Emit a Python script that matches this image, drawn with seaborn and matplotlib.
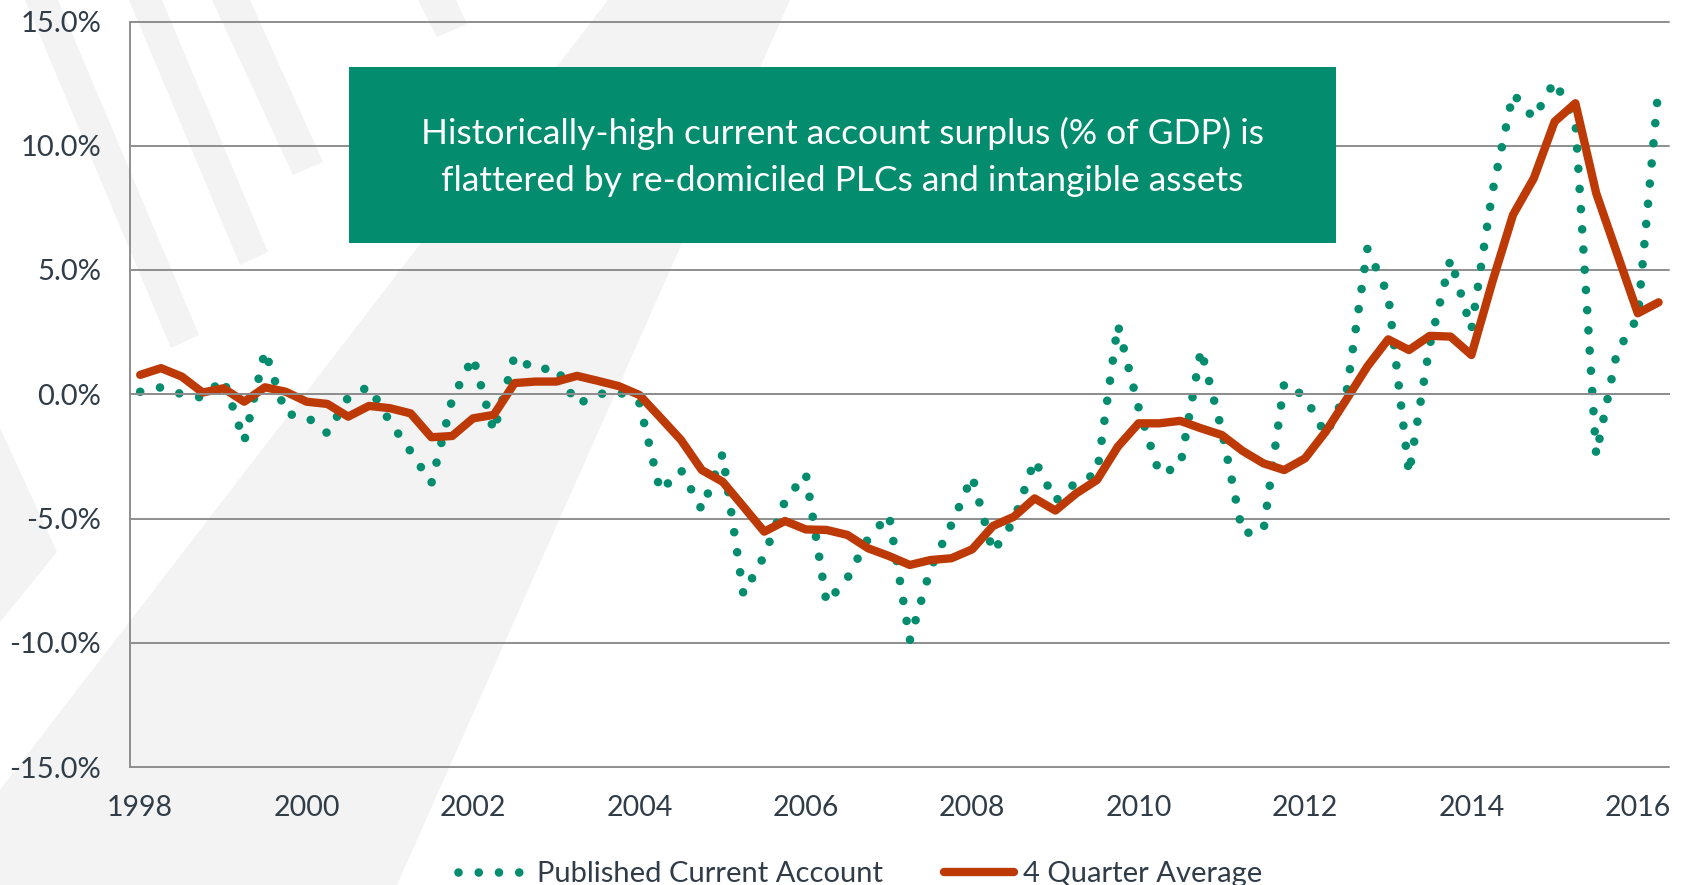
import numpy as np
import pandas as pd
import matplotlib
matplotlib.use("Agg")
import matplotlib.pyplot as plt
from matplotlib.patches import Polygon, Rectangle
from matplotlib.ticker import FuncFormatter
import seaborn as sns

# ---------------------------------------------------------------- data
# Quarterly observations, 1998 Q1 .. 2016 Q2 (% of GDP)
quarters = [f"{y} Q{q}" for y in range(1998, 2017) for q in range(1, 5)][:74]
year_labels = ["1998", "2000", "2002", "2004", "2006", "2008",
               "2010", "2012", "2014", "2016"]

published = [
    0.10, 0.28, 0.00, -0.14, 0.62, -1.90, 1.75, -0.79, -0.90, -1.57,
    -0.12, 0.31, -1.10, -2.30, -3.58, -0.20, 1.50, -1.50, 1.55, 0.97,
    1.08, -0.41, 0.00, 0.10, -0.35, -3.90, -3.05, -4.65, -2.40, -8.05,
    -6.50, -4.30, -3.20, -8.40, -7.40, -5.80, -4.85, -9.90, -7.00, -5.25,
    -3.30, -6.35, -5.10, -2.64, -4.30, -3.54, -3.20, 2.80, -0.54, -3.20,
    -2.90, 1.80, -1.45, -5.60, -5.50, 0.45, -0.10, -1.64, 0.10, 5.85,
    4.00, -3.20, 2.00, 5.45, 2.60, 8.10, 12.10, 11.10, 12.60, 11.00,
    -2.45, 1.70, 3.10, 12.40,
]

four_quarter_avg = [
    0.78, 1.05, 0.71, 0.07, 0.24, -0.30, 0.28, 0.10, -0.30, -0.39,
    -0.90, -0.47, -0.56, -0.77, -1.73, -1.68, -0.97, -0.83, 0.45, 0.51,
    0.51, 0.74, 0.54, 0.33, -0.03, -0.93, -1.84, -3.05, -3.52, -4.52,
    -5.53, -5.10, -5.44, -5.46, -5.66, -6.20, -6.51, -6.87, -6.67, -6.60,
    -6.24, -5.30, -4.93, -4.19, -4.68, -3.99, -3.45, -2.11, -1.17, -1.17,
    -1.07, -1.37, -1.64, -2.28, -2.78, -3.05, -2.58, -1.50, -0.20, 1.12,
    2.21, 1.78, 2.35, 2.32, 1.58, 4.50, 7.22, 8.69, 10.97, 11.71,
    8.09, 5.67, 3.26, 3.70,
]

series_names = ["Published Current Account", "4 Quarter Average"]
headline = ("Historically-high current account surplus (% of GDP) is\n"
            "flattered by re-domiciled PLCs and intangible assets")

# ---------------------------------------------------------------- style
GREEN = "#038c6e"
RED = "#bd3a07"
GRID = "#8e8e8e"
TEXT = "#303d48"
SHADE = "#f3f3f3"

W, H, DPI = 1682, 885, 100

sns.set_theme(style="white")
plt.rcParams["font.family"] = ["Lato", "DejaVu Sans"]

fig = plt.figure(figsize=(W / DPI, H / DPI), dpi=DPI)
fig.patch.set_facecolor("white")


def frac(points):
    """pixel positions (origin top-left) -> figure fraction"""
    return [(x / W, 1 - y / H) for x, y in points]


# decorative background shapes
shapes = [
    [(608, 0), (790, 0), (397, 885), (0, 885), (0, 790)],
    [(0, 428), (57, 552), (0, 622)],
    [(25, 0), (58, 0), (199, 335), (171, 348)],
    [(129, 0), (162, 0), (268, 252), (240, 265)],
    [(212, 0), (250, 0), (323, 162), (293, 175)],
    [(418, 0), (456, 0), (467, 24), (437, 37)],
]
for s in shapes:
    fig.add_artist(Polygon(frac(s), closed=True, transform=fig.transFigure,
                           facecolor=SHADE, edgecolor="none", zorder=-5))

# ---------------------------------------------------------------- axes
left, right, top, bottom = 129.8, 1669, 21.5, 767
ax = fig.add_axes([left / W, 1 - bottom / H, (right - left) / W, (bottom - top) / H])
ax.set_facecolor("none")
ax.set_zorder(1)

df = pd.DataFrame({
    "quarter": quarters,
    "pos": np.arange(len(quarters)),
    "published": published,
    "avg": four_quarter_avg,
})

sns.lineplot(data=df, x="pos", y="published", ax=ax, color=GREEN,
             linewidth=6.2, label=series_names[0], legend=False,
             estimator=None, sort=False)
dots = ax.lines[-1]
dots.set_linestyle((0, (0.001, 2.35)))
dots.set_dash_capstyle("round")

sns.lineplot(data=df, x="pos", y="avg", ax=ax, color=RED,
             linewidth=6.0, label=series_names[1], legend=False,
             estimator=None, sort=False)
avg_line = ax.lines[-1]
avg_line.set_solid_joinstyle("round")
avg_line.set_solid_capstyle("round")

ax.set_xlim(-0.5, len(quarters) - 0.5)
ax.set_ylim(-15, 15)
ax.set_xlabel("")
ax.set_ylabel("")

# y axis: percentage labels, light grid
ax.set_yticks(np.arange(-15, 16, 5))
ax.yaxis.set_major_formatter(FuncFormatter(lambda v, p: f"{v:.1f}%"))
ax.tick_params(axis="y", length=7.2, width=1.4, color=GRID, pad=13.5,
               labelsize=21, labelcolor=TEXT)
ax.grid(axis="y", color=GRID, linewidth=1.4)
ax.grid(axis="x", visible=False)
for gl in ax.get_ygridlines():
    gl.set_clip_on(False)

for side in ("top", "right"):
    ax.spines[side].set_visible(False)
ax.spines["left"].set_color(GRID)
ax.spines["left"].set_linewidth(1.4)

# category axis crosses at zero, ticks between quarters
ax.spines["bottom"].set_position(("data", 0))
ax.spines["bottom"].set_color(GRID)
ax.spines["bottom"].set_linewidth(1.4)
ax.set_xticks(np.arange(0.5, len(quarters), 1.0))
ax.tick_params(axis="x", length=6.5, width=1.4, color=GRID, direction="out",
               labelbottom=False)

# year labels along the bottom edge
lab = ax.secondary_xaxis(0)
lab.set_xticks(np.arange(0, len(quarters), 8), labels=year_labels)
lab.tick_params(axis="x", length=0, pad=20, labelsize=20.5, labelcolor=TEXT)
lab.spines["bottom"].set_visible(False)

# ---------------------------------------------------------------- headline box
bx0, by0, bx1, by1 = 349, 67, 1336, 243
fig.add_artist(Rectangle((bx0 / W, 1 - by1 / H), (bx1 - bx0) / W, (by1 - by0) / H,
                         transform=fig.transFigure, facecolor=GREEN,
                         edgecolor="none", zorder=5))
fig.text((bx0 + bx1) / 2 / W, 1 - 157 / H, headline, ha="center", va="center",
         color="white", fontsize=25.5, fontweight="normal", linespacing=1.55,
         zorder=6)

# ---------------------------------------------------------------- legend
fig.legend(handles=[dots, avg_line], labels=series_names, loc="center",
           bbox_to_anchor=(860 / W, 1 - 874 / H), ncol=2, frameon=False,
           fontsize=21, handlelength=2.4, handletextpad=0.3,
           columnspacing=2.1, labelcolor=TEXT)

fig.savefig("out.png", dpi=DPI, facecolor="white")
